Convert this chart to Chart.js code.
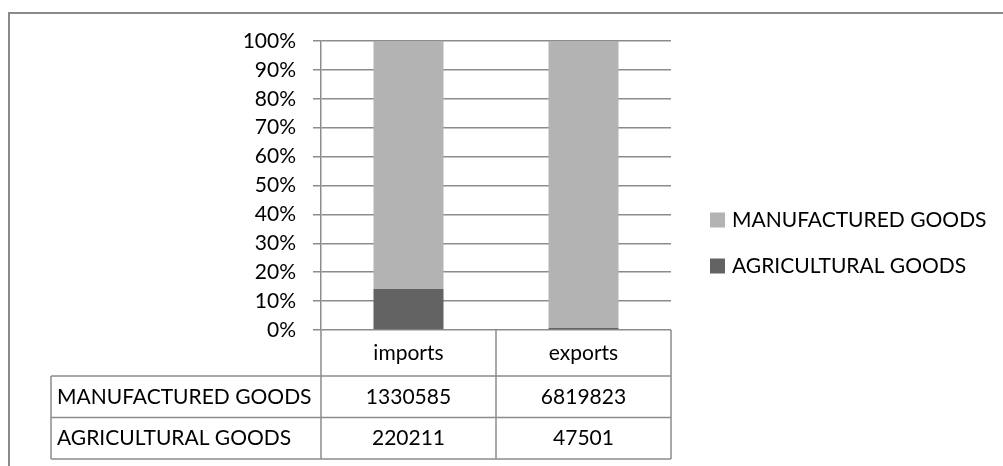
<!DOCTYPE html>
<html>
<head>
<meta charset="utf-8">
<script src="https://cdn.jsdelivr.net/npm/chart.js@4.4.1/dist/chart.umd.min.js"></script>
<style>
  html, body { margin: 0; padding: 0; background: #fff; }
  #wrap { width: 1003px; height: 466px; }
</style>
</head>
<body>
<div id="wrap"><canvas id="chart" width="1003" height="466"></canvas></div>
<script>
const categories = ['imports', 'exports'];
const manufactured = [1330585, 6819823];
const agricultural = [220211, 47501];
const seriesNames = ['MANUFACTURED GOODS', 'AGRICULTURAL GOODS'];

const FONT = 'Lato, "Open Sans", sans-serif';
const FONT_SIZE = 21;
const LINE = '#8c8c8c';
const LIGHT = '#b3b3b3';
const DARK = '#636363';

// 100% stacked: turn raw values into shares of each column
const totals = categories.map((_, i) => manufactured[i] + agricultural[i]);
const manufacturedPct = manufactured.map((v, i) => v / totals[i] * 100);
const agriculturalPct = agricultural.map((v, i) => v / totals[i] * 100);

const frameAndTable = {
  id: 'frameAndTable',
  beforeDraw(chart) {
    const ctx = chart.ctx;
    ctx.save();
    ctx.fillStyle = '#fff';
    ctx.fillRect(0, 0, chart.width, chart.height);
    ctx.strokeStyle = '#8a8a8a';
    ctx.lineWidth = 2;
    ctx.strokeRect(9, 13, chart.width + 20, chart.height + 20);
    ctx.restore();
  },
  afterDraw(chart) {
    const ctx = chart.ctx;
    const area = chart.chartArea;
    const xs = chart.scales.x;
    const left = area.left, right = area.right;
    const mid = (xs.getPixelForValue(0) + xs.getPixelForValue(1)) / 2;
    const labelLeft = 51;
    const top = area.bottom;
    const headBottom = top + 46;
    const rowH = 41.5;
    const rows = [manufactured, agricultural];
    const bottom = headBottom + rowH * rows.length;

    ctx.save();
    ctx.strokeStyle = LINE;
    ctx.lineWidth = 1.5;
    ctx.beginPath();
    // column lines
    [left, mid, right].forEach(x => {
      ctx.moveTo(x, top);
      ctx.lineTo(x, bottom);
    });
    ctx.moveTo(labelLeft, headBottom);
    ctx.lineTo(labelLeft, bottom);
    // row lines
    for (let r = 0; r <= rows.length; r++) {
      const y = headBottom + rowH * r;
      ctx.moveTo(labelLeft, y);
      ctx.lineTo(right, y);
    }
    ctx.stroke();

    ctx.fillStyle = '#000';
    ctx.font = FONT_SIZE + 'px ' + FONT;
    ctx.textBaseline = 'middle';
    ctx.textAlign = 'center';
    categories.forEach((c, i) => {
      const cx = xs.getPixelForValue(i);
      ctx.fillText(c, cx, (top + headBottom) / 2);
      rows.forEach((vals, r) => {
        ctx.fillText(String(vals[i]), cx, headBottom + rowH * r + rowH / 2);
      });
    });
    ctx.textAlign = 'left';
    seriesNames.forEach((name, r) => {
      ctx.fillText(name, labelLeft + 6, headBottom + rowH * r + rowH / 2);
    });

    // legend
    const legendColors = [LIGHT, DARK];
    const legendY = [220, 266];
    seriesNames.forEach((name, r) => {
      ctx.fillStyle = legendColors[r];
      ctx.fillRect(710, legendY[r] - 7.5, 15, 15);
      ctx.fillStyle = '#000';
      ctx.fillText(name, 732, legendY[r]);
    });
    ctx.restore();
  }
};

new Chart(document.getElementById('chart'), {
  type: 'bar',
  data: {
    labels: categories,
    datasets: [
      {
        label: seriesNames[1],
        data: agriculturalPct,
        backgroundColor: DARK,
        barPercentage: 0.4,
        categoryPercentage: 1.0,
      },
      {
        label: seriesNames[0],
        data: manufacturedPct,
        backgroundColor: LIGHT,
        barPercentage: 0.4,
        categoryPercentage: 1.0,
      },
    ],
  },
  options: {
    responsive: false,
    animation: false,
    layout: {
      padding: { left: 241, right: 332, top: 41, bottom: 136 },
    },
    plugins: {
      legend: { display: false },
      tooltip: { enabled: false },
    },
    scales: {
      x: {
        stacked: true,
        display: false,
      },
      y: {
        stacked: true,
        min: 0,
        max: 100,
        afterFit: (scale) => { scale.width = 80; },
        ticks: {
          stepSize: 10,
          padding: 17,
          color: '#000',
          font: { family: FONT, size: FONT_SIZE },
          callback: (v) => v + '%',
        },
        grid: {
          color: LINE,
          lineWidth: 1.5,
          drawTicks: true,
          tickLength: 8,
        },
        border: { display: true, color: LINE, width: 1.5 },
      },
    },
  },
  plugins: [frameAndTable],
});
</script>
</body>
</html>
